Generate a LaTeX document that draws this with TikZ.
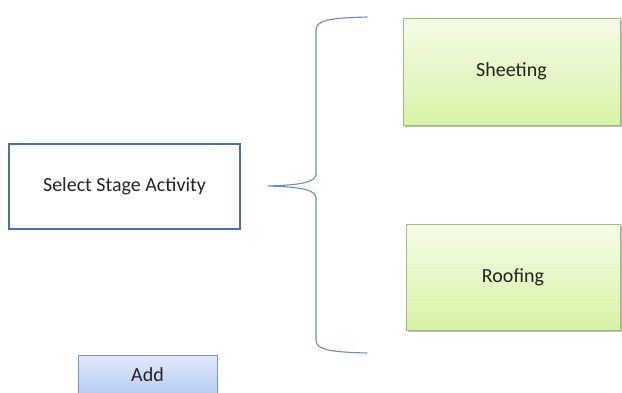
\documentclass[tikz,border=0pt]{standalone}
\usepackage{fontspec}
\setmainfont{Carlito}
\usetikzlibrary{shadows}
\definecolor{selborder}{RGB}{74,110,165}
\definecolor{bracecol}{RGB}{112,140,178}
\definecolor{greentop}{RGB}{245,252,232}
\definecolor{greenbot}{RGB}{214,243,166}
\definecolor{greenborder}{RGB}{160,186,118}
\definecolor{bluetop}{RGB}{226,233,251}
\definecolor{bluebot}{RGB}{183,203,243}
\definecolor{blueborder}{RGB}{128,146,182}
\definecolor{txt}{RGB}{35,35,35}
\tikzset{
  selbox/.style={draw=selborder, line width=1.3pt, fill=white, inner sep=0pt,
    font=\fontsize{20}{24}\selectfont, text=txt},
  greenbox/.style={draw=greenborder, line width=1pt, inner sep=0pt,
    top color=greentop, bottom color=greenbot,
    drop shadow={shadow xshift=1.5pt, shadow yshift=-1.5pt, opacity=0.25, fill=black},
    font=\fontsize{20}{24}\selectfont, text=txt},
  addbox/.style={draw=blueborder, line width=1pt, inner sep=0pt,
    top color=bluetop, bottom color=bluebot,
    font=\fontsize{20}{24}\selectfont, text=txt},
  bracepath/.style={draw=bracecol, line width=1.1pt, line cap=round}
}
\begin{document}
\begin{tikzpicture}[x=1pt, y=-1pt]
\useasboundingbox (0,0) rectangle (622,392);
\node[selbox, minimum width=231pt, minimum height=85pt] (select) at (124.5,186.5) {Select Stage Activity};
\node[greenbox, minimum width=217pt, minimum height=107pt] (sheet) at (511.5,71.5) {Sheeting};
\node[greenbox, minimum width=214pt, minimum height=106pt] (roof) at (513,277) {Roofing};
\node[addbox, minimum width=139pt, minimum height=40pt] (add) at (147.5,375) {Add};
\coordinate (btop) at (367,17);
\coordinate (btip) at (268,186);
\coordinate (bbot) at (367,353);
\draw[bracepath] (btop) .. controls (330,18) and (316,20) .. (316,30)
  -- (316,174) .. controls (316,182) and (302,185) .. (btip)
  .. controls (302,187) and (316,190) .. (316,198)
  -- (316,340) .. controls (316,350) and (330,352) .. (bbot);
\end{tikzpicture}
\end{document}
